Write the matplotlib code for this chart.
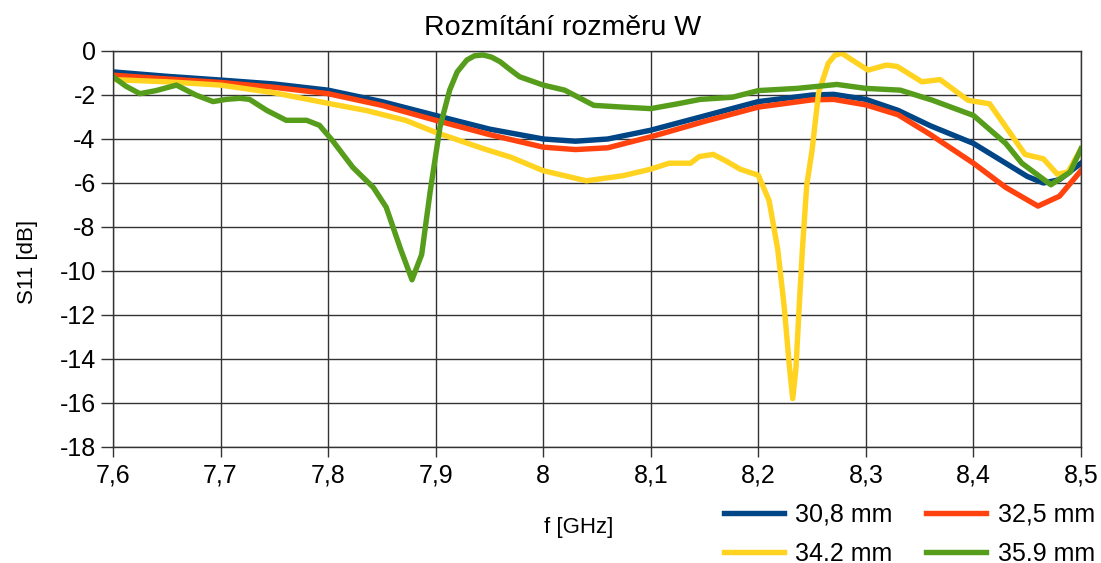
import matplotlib
matplotlib.use('Agg')
import matplotlib.pyplot as plt
from matplotlib.ticker import FixedLocator

plt.rcParams['font.family'] = ['Liberation Sans', 'DejaVu Sans']
plt.rcParams['axes.unicode_minus'] = False

# series labels and colours
labels = ['30,8 mm', '32,5 mm', '34.2 mm', '35.9 mm']
colors = ['#004586', '#ff420e', '#ffd320', '#579d1c']

# 30,8 mm
f_308 = [7.60, 7.65, 7.70, 7.75, 7.80, 7.85, 7.90, 7.95, 8.00, 8.03, 8.06, 8.10,
         8.15, 8.20, 8.25, 8.27, 8.30, 8.33, 8.36, 8.40, 8.43, 8.45, 8.465, 8.48, 8.50]
s_308 = [-0.95, -1.15, -1.32, -1.5, -1.78, -2.3, -2.93, -3.55, -4.0, -4.1, -4.0, -3.6,
         -2.95, -2.3, -2.0, -1.97, -2.2, -2.7, -3.4, -4.2, -5.1, -5.7, -6.0, -5.85, -5.1]

# 32,5 mm
f_325 = [7.60, 7.65, 7.70, 7.75, 7.80, 7.85, 7.90, 7.95, 8.00, 8.03, 8.06, 8.10,
         8.15, 8.20, 8.25, 8.27, 8.30, 8.33, 8.36, 8.40, 8.43, 8.46, 8.48, 8.50]
s_325 = [-1.1, -1.27, -1.43, -1.65, -1.94, -2.47, -3.15, -3.8, -4.37, -4.48, -4.4, -3.9,
         -3.2, -2.55, -2.22, -2.2, -2.45, -2.9, -3.8, -5.1, -6.2, -7.05, -6.6, -5.44]

# 34.2 mm
f_342 = [7.600, 7.650, 7.700, 7.750, 7.800, 7.835, 7.872, 7.900, 7.945, 7.970, 8.000,
         8.040, 8.074, 8.100, 8.117, 8.137, 8.145, 8.158, 8.170, 8.183, 8.200, 8.210,
         8.218, 8.224, 8.229, 8.232, 8.235, 8.238, 8.241, 8.245, 8.250, 8.256, 8.265,
         8.271, 8.2775, 8.285, 8.302, 8.319, 8.329, 8.352, 8.369, 8.395, 8.415, 8.428,
         8.448, 8.465, 8.478, 8.488, 8.500]
s_342 = [-1.3, -1.4, -1.55, -1.9, -2.38, -2.7, -3.15, -3.7, -4.45, -4.83, -5.44,
         -5.9, -5.67, -5.37, -5.1, -5.1, -4.8, -4.7, -5.0, -5.37, -5.65, -6.8,
         -9.0, -11.6, -14.4, -15.8, -14.4, -11.6, -9.0, -6.1, -4.5, -1.9, -0.56,
         -0.2, -0.1, -0.34, -0.87, -0.64, -0.7, -1.4, -1.3, -2.24, -2.4, -3.3,
         -4.7, -4.9, -5.6, -5.5, -4.45]

# 35.9 mm
f_359 = [7.600, 7.612, 7.625, 7.640, 7.659, 7.677, 7.693, 7.705, 7.718, 7.727, 7.743,
         7.761, 7.780, 7.792, 7.804, 7.823, 7.842, 7.854, 7.867, 7.878, 7.887, 7.895,
         7.904, 7.913, 7.920, 7.929, 7.936, 7.944, 7.952, 7.960, 7.968, 7.978, 8.000,
         8.020, 8.047, 8.074, 8.100, 8.125, 8.146, 8.176, 8.200, 8.236, 8.273, 8.300,
         8.332, 8.362, 8.400, 8.430, 8.445, 8.472, 8.490, 8.500]
s_359 = [-1.17, -1.6, -1.94, -1.8, -1.55, -2.0, -2.3, -2.2, -2.15, -2.2, -2.7,
         -3.15, -3.15, -3.38, -4.07, -5.29, -6.2, -7.1, -8.95, -10.4, -9.25, -6.35,
         -3.46, -1.78, -0.95, -0.41, -0.22, -0.18, -0.28, -0.49, -0.8, -1.17, -1.55,
         -1.78, -2.47, -2.55, -2.62, -2.4, -2.2, -2.1, -1.8, -1.7, -1.52, -1.7,
         -1.78, -2.24, -2.93, -4.2, -5.1, -6.08, -5.5, -4.45]

x_ticks = [7.6, 7.7, 7.8, 7.9, 8.0, 8.1, 8.2, 8.3, 8.4, 8.5]
x_ticklabels = ['7,6', '7,7', '7,8', '7,9', '8', '8,1', '8,2', '8,3', '8,4', '8,5']
y_ticks = list(range(-18, 1, 2))

fig = plt.figure(figsize=(11.01, 5.63), dpi=100)
ax = fig.add_axes([113 / 1101, 1 - 447 / 563, (1081 - 113) / 1101, (447 - 51) / 563])

series = [(f_308, s_308), (f_325, s_325), (f_342, s_342), (f_359, s_359)]
handles = []
for (f, s), lab, c in zip(series, labels, colors):
    h, = ax.plot(f, s, color=c, lw=3.9, label=lab, solid_joinstyle='round')
    handles.append(h)

ax.set_xlim(7.6, 8.5)
ax.set_ylim(-18, 0)
ax.xaxis.set_major_locator(FixedLocator(x_ticks))
ax.set_xticklabels(x_ticklabels)
ax.set_yticks(y_ticks)
ax.tick_params(labelsize=18, width=1, color='#333333')
ax.tick_params(axis='y', length=8.5, pad=4)
ax.tick_params(axis='x', length=7, pad=5)
ax.grid(True, color='#333333', lw=1)
ax.set_axisbelow(True)
for sp in ax.spines.values():
    sp.set_color('#333333')
    sp.set_linewidth(1)

fig.text(563 / 1101, 1 - 28 / 563, 'Rozmítání rozměru W', ha='center', va='center', fontsize=20.5)
fig.text(579 / 1101, 1 - 527 / 563, 'f [GHz]', ha='center', va='center', fontsize=16)
fig.text(27 / 1101, 1 - 262 / 563, 'S11 [dB]', ha='center', va='center', fontsize=16, rotation=90)

# legend: row 1 blue/red, row 2 yellow/green
fig.legend([handles[0], handles[2], handles[1], handles[3]],
           [labels[0], labels[2], labels[1], labels[3]],
           ncol=2, loc='center left', bbox_to_anchor=(724 / 1101, 1 - 534 / 563),
           frameon=False, borderpad=0, borderaxespad=0,
           fontsize=18, handlelength=2.4, handletextpad=0.45, columnspacing=1.35,
           labelspacing=0.62)

fig.savefig('out.png', dpi=100)
